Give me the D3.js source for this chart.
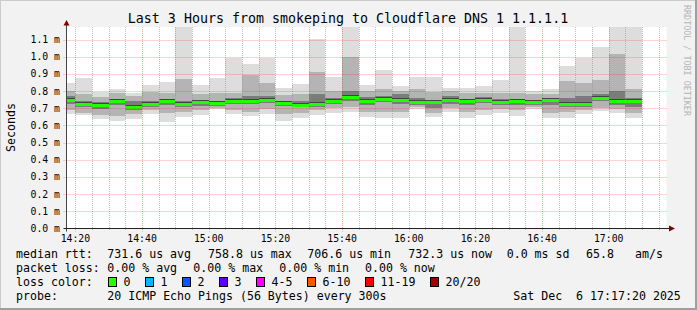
<!DOCTYPE html>
<html><head><meta charset="utf-8">
<script src="https://cdn.jsdelivr.net/npm/d3@7"></script>
<style>
html,body{margin:0;padding:0;background:#f2f2f2;}
svg{display:block;font-family:"DejaVu Sans Mono",monospace;}
</style>
</head><body>
<svg id="c" width="697" height="310"></svg>
<script>
// ---- data (values in milliseconds) ----
const barStart = ["14:15","14:20","14:25","14:30","14:35","14:40","14:45","14:50","14:55","15:00",
  "15:05","15:10","15:15","15:20","15:25","15:30","15:35","15:40","15:45","15:50",
  "15:55","16:00","16:05","16:10","16:15","16:20","16:25","16:30","16:35","16:40",
  "16:45","16:50","16:55","17:00","17:05"];
const pMin   = [0.669,0.659,0.640,0.625,0.636,0.669,0.620,0.650,0.663,0.694,
  0.669,0.655,0.665,0.625,0.644,0.659,0.675,0.679,0.650,0.646,
  0.646,0.698,0.650,0.679,0.646,0.663,0.675,0.654,0.693,0.646,
  0.644,0.669,0.681,0.673,0.646];
const p15    = [0.690,0.675,0.660,0.655,0.665,0.690,0.670,0.680,0.690,0.700,
  0.690,0.680,0.695,0.665,0.670,0.690,0.700,0.710,0.680,0.680,
  0.680,0.705,0.670,0.700,0.680,0.690,0.695,0.690,0.705,0.670,
  0.680,0.690,0.700,0.695,0.670];
const p35    = [0.725,0.705,0.695,0.720,0.690,0.710,0.720,0.710,0.715,0.715,
  0.725,0.725,0.730,0.715,0.705,0.710,0.725,0.745,0.720,0.735,
  0.725,0.720,0.700,0.725,0.720,0.730,0.720,0.720,0.720,0.720,
  0.710,0.710,0.745,0.720,0.705];
const median = [0.747,0.723,0.714,0.741,0.705,0.723,0.737,0.723,0.731,0.725,
  0.737,0.737,0.743,0.729,0.718,0.723,0.739,0.760,0.737,0.752,
  0.743,0.735,0.735,0.743,0.737,0.745,0.731,0.737,0.731,0.743,
  0.723,0.723,0.757,0.737,0.737];
const p65    = [0.770,0.740,0.735,0.755,0.745,0.745,0.755,0.745,0.750,0.745,
  0.760,0.770,0.770,0.745,0.740,0.780,0.760,0.800,0.765,0.770,
  0.780,0.760,0.750,0.770,0.750,0.765,0.755,0.755,0.750,0.755,
  0.760,0.770,0.780,0.800,0.760];
const p85    = [0.800,0.780,0.765,0.790,0.770,0.795,0.790,0.869,0.785,0.790,
  0.790,0.896,0.848,0.775,0.780,0.912,0.800,1.000,0.800,0.810,
  0.800,0.810,0.795,0.800,0.790,0.790,0.790,0.790,0.785,0.785,
  0.857,0.844,0.863,1.018,0.811];
const pMax   = [0.848,0.877,0.795,0.811,0.786,0.834,0.853,1.250,0.834,0.877,
  0.993,0.956,0.993,0.815,0.840,1.102,0.883,1.250,0.834,0.921,
  0.828,0.883,0.883,0.820,0.820,0.828,0.863,1.250,0.801,0.811,
  0.945,0.993,1.057,1.250,1.250];
const yTicks = [0.1,0.2,0.3,0.4,0.5,0.6,0.7,0.8,0.9,1.0,1.1];
const yTickLabels = ["0.0 m","0.1 m","0.2 m","0.3 m","0.4 m","0.5 m","0.6 m","0.7 m","0.8 m","0.9 m","1.0 m","1.1 m"];
const xTickLabels = ["14:20","14:40","15:00","15:20","15:40","16:00","16:20","16:40","17:00"];
const lossLabels = ["0","1","2","3","4-5","6-10","11-19","20/20"];
const lossColors = ["#26ff00","#00b8ff","#0059ff","#5e00ff","#ff00ff","#ff5500","#ff0000","#a10000"];

// ---- layout ----
const svg = d3.select("#c");
const W = 697, H = 310;
const L = 66.5, R = 666.5, T = 27, B = 228.5;
const parse = d3.utcParse("%H:%M:%S");
const p5 = s => parse(s + ":00");
const x = d3.scaleUtc().domain([parse("14:17:20"), parse("17:17:20")]).range([L, R]);
const y = d3.scaleLinear().domain([0, 1.1728]).range([B, T]);

// background and shading
svg.append("rect").attr("width", W).attr("height", H).attr("fill", "#f2f2f2");
svg.append("rect").attr("x",0).attr("y",0).attr("width",W).attr("height",1).attr("fill","#cbcbcb");
svg.append("rect").attr("x",0).attr("y",0).attr("width",1).attr("height",H).attr("fill","#cbcbcb");
svg.append("rect").attr("x",0).attr("y",H-2).attr("width",W).attr("height",2).attr("fill","#9f9f9f");
svg.append("rect").attr("x",W-2).attr("y",0).attr("width",2).attr("height",H).attr("fill","#9f9f9f");

// canvas
svg.append("rect").attr("x", L).attr("y", T).attr("width", R - L).attr("height", B - T).attr("fill", "#fff");

svg.append("clipPath").attr("id","pc").append("rect")
  .attr("x", L).attr("y", T).attr("width", R - L).attr("height", B - T);

const bars = barStart.map((s, i) => ({
  t0: p5(s), t1: d3.utcMinute.offset(p5(s), 5),
  mn: pMin[i], a: p15[i], b: p35[i], md: median[i], c: p65[i], d: p85[i], mx: pMax[i]
}));

const g = svg.append("g").attr("clip-path", "url(#pc)");
const band = (lo, hi, col) => {
  g.append("g").selectAll("rect").data(bars).join("rect")
    .attr("x", d => x(d.t0)).attr("width", d => x(d.t1) - x(d.t0))
    .attr("y", d => y(d[hi])).attr("height", d => y(d[lo]) - y(d[hi]))
    .attr("fill", col).attr("shape-rendering", "crispEdges");
};
band("mn", "mx", "#dddddd");
band("a", "d", "#b4b4b4");
band("b", "c", "#7c7c7c");
g.append("g").selectAll("rect").data(bars).join("rect")
  .attr("x", d => x(d.t0)).attr("width", d => x(d.t1) - x(d.t0))
  .attr("y", d => y(d.md) - 2.5).attr("height", 1.5)
  .attr("fill", "#444").attr("shape-rendering", "crispEdges");
g.append("g").selectAll("rect").data(bars).join("rect")
  .attr("x", d => x(d.t0)).attr("width", d => x(d.t1) - x(d.t0))
  .attr("y", d => y(d.md) - 1.5).attr("height", 3)
  .attr("fill", "#20ff00").attr("shape-rendering", "crispEdges");

// grid
const minorTimes = d3.utcMinute.every(5).range(parse("14:20:00"), parse("17:17:00"));
const majorSet = new Set(xTickLabels);
const fmt = d3.utcFormat("%H:%M");
const grid = svg.append("g");
grid.selectAll("line.mi").data(minorTimes.filter(t => !majorSet.has(fmt(t)))).join("line")
  .attr("x1", d => Math.round(x(d)) + 0.5).attr("x2", d => Math.round(x(d)) + 0.5)
  .attr("y1", T).attr("y2", B + 2)
  .attr("stroke", "rgba(140,140,140,0.55)").attr("stroke-dasharray", "1,1");
grid.selectAll("line.ma").data(xTickLabels.map(s => p5(s))).join("line")
  .attr("x1", d => Math.round(x(d)) + 0.5).attr("x2", d => Math.round(x(d)) + 0.5)
  .attr("y1", T).attr("y2", B + 3)
  .attr("stroke", "rgba(255,0,0,0.35)").attr("stroke-dasharray", "1,1");
grid.selectAll("line.h").data(yTicks).join("line")
  .attr("x1", L - 3).attr("x2", R)
  .attr("y1", d => Math.round(y(d)) + 0.5).attr("y2", d => Math.round(y(d)) + 0.5)
  .attr("stroke", "rgba(255,0,0,0.35)").attr("stroke-dasharray", "1,1");

// axes
svg.append("line").attr("x1", L).attr("x2", L).attr("y1", B + 3).attr("y2", 24)
  .attr("stroke", "#444").attr("stroke-width", 1);
svg.append("line").attr("x1", L - 3).attr("x2", 670).attr("y1", B).attr("y2", B)
  .attr("stroke", "#222").attr("stroke-width", 1);
svg.append("path").attr("d", `M${L-3},25.5 L${L+3},25.5 L${L},20 Z`).attr("fill", "#7f0000");
svg.append("path").attr("d", `M669,${B-3} L669,${B+3} L675,${B} Z`).attr("fill", "#7f0000");

// y labels
svg.append("g").selectAll("text").data([0].concat(yTicks)).join("text")
  .attr("x", 60).attr("y", d => y(d) + 3.5).attr("text-anchor", "end")
  .attr("font-size", "9.8px").attr("fill", "#000")
  .text((d, i) => yTickLabels[i]);
// x labels
svg.append("g").selectAll("text").data(xTickLabels).join("text")
  .attr("x", d => x(p5(d))).attr("y", 241.5).attr("text-anchor", "middle")
  .attr("font-size", "9.8px").attr("fill", "#000").text(d => d);

// titles
svg.append("text").attr("x", 348).attr("y", 22.5).attr("text-anchor", "middle")
  .attr("font-size", "13.3px").attr("fill", "#000")
  .text("Last 3 Hours from smokeping to Cloudflare DNS 1 1.1.1.1");
svg.append("text").attr("transform", "translate(15,127.5) rotate(-90)")
  .attr("text-anchor", "middle").attr("font-size", "11.6px").attr("fill", "#000").text("Seconds");
svg.append("text").attr("transform", "translate(684,5) rotate(90)")
  .attr("font-size", "8.4px").attr("fill", "#b4b4b4").text("RRDTOOL / TOBI OETIKER");

// legend
const legendItems = [
  [16,258,"median rtt:"],[107.3,258,"731.6 us avg"],[208,258,"758.8 us max"],[307.3,258,"706.6 us min"],
  [408.3,258,"732.3 us now"],[506.7,258,"0.0 ms sd"],[586,258,"65.8"],[635,258,"am/s"],
  [16,272,"packet loss:"],[107.3,272,"0.00 % avg"],[193.3,272,"0.00 % max"],[279.3,272,"0.00 % min"],[365,272,"0.00 % now"],
  [16,286,"loss color:"],
  [16,300,"probe:"],[107.3,300,"20 ICMP Echo Pings (56 Bytes) every 300s"],[513.3,300,"Sat Dec  6 17:17:20 2025"]
];
svg.append("g").selectAll("text").data(legendItems).join("text")
  .attr("x", d => d[0]).attr("y", d => d[1]).attr("font-size", "11.6px").attr("fill", "#000")
  .attr("xml:space", "preserve").style("white-space", "pre").text(d => d[2]);
const boxX = [108.5,145.5,182.5,219.5,256.5,307.5,365.5,430.5];
const lg = svg.append("g");
lg.selectAll("rect").data(lossColors).join("rect")
  .attr("x", (d, i) => boxX[i]).attr("y", 277.5).attr("width", 8).attr("height", 9)
  .attr("fill", d => d).attr("stroke", "#000").attr("stroke-width", 1);
lg.selectAll("text").data(lossLabels).join("text")
  .attr("x", (d, i) => boxX[i] + 15).attr("y", 286).attr("font-size", "11.6px").attr("fill", "#000")
  .text(d => d);
</script>
</body></html>
